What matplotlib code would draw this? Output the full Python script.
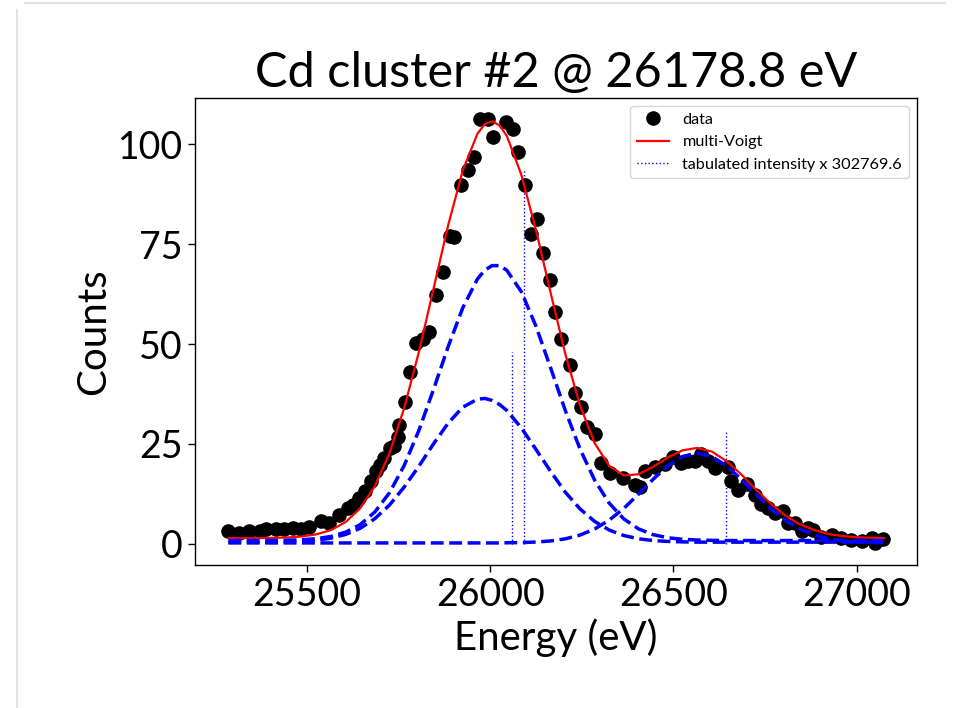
import matplotlib

matplotlib.use("Agg")
import matplotlib.pyplot as plt
from matplotlib.lines import Line2D

plt.rcParams["font.family"] = ["Lato", "DejaVu Sans"]

# measured spectrum (black dots)
energy = [25283, 25315, 25342, 25370, 25388, 25415, 25438, 25461, 25484, 25506,
          25538, 25561, 25588, 25611, 25625, 25643, 25657, 25675, 25689, 25698,
          25711, 25725, 25737, 25748, 25752, 25766, 25780, 25798, 25816, 25832,
          25852, 25871, 25889, 25902, 25921, 25939, 25957, 25972, 25994, 26007,
          26044, 26062, 26076, 26094, 26112, 26128, 26144, 26162, 26176, 26192,
          26217, 26232, 26249, 26265, 26285, 26303, 26326, 26363, 26394, 26408,
          26422, 26449, 26476, 26499, 26522, 26540, 26558, 26575, 26595, 26613,
          26650, 26658, 26677, 26702, 26722, 26740, 26759, 26777, 26800, 26813,
          26832, 26850, 26868, 26880, 26904, 26932, 26959, 26986, 27014, 27041,
          27050, 27073]
counts = [3.3, 2.8, 3.1, 3.3, 3.7, 3.7, 3.7, 3.9, 3.7, 4.2,
          5.6, 5.2, 7.2, 8.9, 9.8, 11.4, 13.1, 15.6, 18.1, 19.8,
          21.4, 23.9, 24.5, 26.8, 29.8, 35.6, 43.1, 50.2, 51.4, 53.0,
          62.2, 68.1, 77.2, 76.8, 89.8, 93.5, 96.8, 106.4, 106.4, 101.8,
          105.6, 103.9, 98.1, 89.8, 77.7, 81.4, 72.7, 66.0, 58.0, 51.3,
          44.8, 37.8, 34.3, 29.3, 27.5, 20.2, 17.7, 16.4, 14.8, 14.3,
          18.1, 19.3, 20.0, 21.8, 20.2, 20.6, 20.6, 22.5, 20.6, 18.9,
          19.3, 15.6, 13.5, 15.0, 12.3, 10.0, 8.9, 7.6, 8.1, 5.2,
          5.2, 3.3, 3.9, 3.5, 1.8, 2.2, 1.4, 1.0, 0.8, 1.4,
          0.2, 1.2]

# fitted curves at these energies
fit_energy = [25285, 25325, 25365, 25405, 25445, 25485, 25525, 25565, 25605, 25645,
              25685, 25725, 25765, 25805, 25845, 25885, 25925, 25965, 25985, 26005,
              26025, 26045, 26085, 26125, 26165, 26205, 26245, 26285, 26325, 26365,
              26405, 26445, 26485, 26525, 26565, 26605, 26645, 26685, 26725, 26765,
              26805, 26845, 26885, 26925, 26965, 27005, 27045, 27075]
fit_total = [1.40, 1.40, 1.41, 1.47, 1.57, 1.82, 2.35, 3.42, 5.42, 8.88,
             14.45, 22.69, 33.99, 47.96, 63.81, 79.74, 93.5, 102.7, 105.1, 105.8,
             104.8, 102.2, 92.4, 78.5, 62.8, 47.5, 34.7, 25.2, 19.5, 17.1,
             17.4, 19.3, 21.6, 23.4, 24.0, 23.1, 20.7, 17.4, 13.6, 10.1,
             7.1, 4.9, 3.4, 2.4, 1.9, 1.6, 1.5, 1.4]
peak_a = [0.80, 0.80, 0.80, 0.83, 0.88, 1.00, 1.27, 1.82, 2.89, 4.80,
          7.96, 12.79, 19.59, 28.36, 38.61, 49.34, 59.10, 66.30, 68.52, 69.66,
          69.66, 68.52, 63.11, 54.44, 44.00, 33.35, 23.75, 15.93, 10.14, 6.19,
          3.71, 2.27, 1.50, 1.11, 0.93, 0.85] + [0.80] * 12
peak_b = [0.40, 0.40, 0.40, 0.44, 0.49, 0.62, 0.88, 1.40, 2.33, 3.88,
          6.29, 9.70, 14.2, 19.4, 25.0, 30.2, 34.2, 36.2, 36.4, 35.9,
          34.9, 33.4, 29.0, 23.6, 18.1, 12.9, 8.74, 5.59, 3.42, 2.05,
          1.24, 0.80, 0.58, 0.47] + [0.40] * 14
peak_c = [0.20] * 21 + [0.24, 0.29, 0.43, 0.70, 1.23, 2.17, 3.69, 5.92, 8.89,
                        12.44, 16.18, 19.52, 21.86, 22.70, 21.86, 19.52, 16.18, 12.44,
                        8.89, 5.92, 3.69, 2.17, 1.23, 0.70, 0.43, 0.29, 0.24]

# tabulated line positions and scaled intensities
line_energy = [26059, 26091, 26645]
line_height = [48.0, 93.5, 28.5]


def main():
    fig = plt.figure(figsize=(9.55, 7.08), dpi=100)
    ax = fig.add_axes([0.204, 0.202, 0.756, 0.660])

    ax.vlines(line_energy, 0, line_height, colors="blue", linestyles=":", lw=1.0,
              label="tabulated intensity x 302769.6", zorder=1)
    ax.plot(energy, counts, "o", color="black", markersize=9.5, label="data", zorder=2)
    ax.plot(fit_energy, fit_total, color="red", lw=1.6, label="multi-Voigt", zorder=3)
    for comp in (peak_a, peak_b, peak_c):
        ax.plot(fit_energy, comp, "--", color="blue", lw=2.5, zorder=4)

    ax.set_xticks([25500, 26000, 26500, 27000])
    ax.set_yticks([0, 25, 50, 75, 100])
    ax.tick_params(labelsize=27, length=5, width=1.0)
    for s in ax.spines.values():
        s.set_linewidth(1.0)
    ax.set_xlabel("Energy (eV)", fontsize=29)
    ax.set_ylabel("Counts", fontsize=29)
    ax.set_title("Cd cluster #2 @ 26178.8 eV", fontsize=35, pad=8)

    h, l = ax.get_legend_handles_labels()
    order = [l.index("data"), l.index("multi-Voigt"), l.index("tabulated intensity x 302769.6")]
    ax.legend([h[i] for i in order], [l[i] for i in order], loc="upper right", fontsize=11.7)

    # faint notebook cell frame
    fig.add_artist(Line2D([17 / 955, 17 / 955], [0, 1 - 10 / 708], color="#e2e2e2", lw=1.5))
    fig.add_artist(Line2D([25 / 955, 945 / 955], [1 - 3 / 708, 1 - 3 / 708], color="#e2e2e2", lw=1.5))

    fig.savefig("out.png", dpi=100)


if __name__ == "__main__":
    main()
